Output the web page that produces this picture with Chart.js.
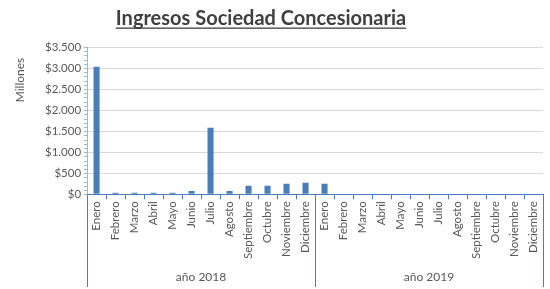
<!DOCTYPE html>
<html>
<head>
<meta charset="utf-8">
<script src="https://cdn.jsdelivr.net/npm/chart.js@4"></script>
<style>
  html, body { margin: 0; padding: 0; background: #fff; }
  #wrap { width: 550px; height: 289px; }
</style>
</head>
<body>
<div id="wrap"><canvas id="chart" width="550" height="289"></canvas></div>
<script>
const months = ['Enero', 'Febrero', 'Marzo', 'Abril', 'Mayo', 'Junio', 'Julio', 'Agosto', 'Septiembre', 'Octubre', 'Noviembre', 'Diciembre'];
const years = ['año 2018', 'año 2019'];
const ingresos2018 = [3030, 35, 35, 35, 35, 80, 1580, 80, 205, 205, 250, 275];
const ingresos2019 = [250, 0, 0, 0, 0, 0, 0, 0, 0, 0, 0, 0];
const yTicks = [0, 500, 1000, 1500, 2000, 2500, 3000, 3500];

const labels = months.concat(months);
const values = ingresos2018.concat(ingresos2019);
const blue = '#4a7ebb';
const textGray = '#595959';

// title, y label, minor ticks, year groups
const extras = {
    id: 'extras',
    afterDraw(c) {
        const ctx = c.ctx;
        const x = c.scales.x;
        const y = c.scales.y;
        const area = c.chartArea;
        ctx.save();

        // title
        ctx.font = 'bold 20px Lato';
        ctx.fillStyle = '#404040';
        ctx.textAlign = 'center';
        ctx.textBaseline = 'alphabetic';
        const tx = 261;
        ctx.fillText('Ingresos Sociedad Concesionaria', tx, 25);
        const tw = ctx.measureText('Ingresos Sociedad Concesionaria').width;
        ctx.fillRect(tx - tw / 2, 27.5, tw, 1.3);

        // y axis label
        ctx.font = '12px Lato';
        ctx.fillStyle = textGray;
        ctx.translate(20, 80);
        ctx.rotate(-Math.PI / 2);
        ctx.textBaseline = 'middle';
        ctx.fillText('Millones', 0, 0);
        ctx.setTransform(1, 0, 0, 1, 0, 0);

        // minor ticks on y axis
        ctx.strokeStyle = '#9db6da';
        ctx.lineWidth = 1;
        ctx.beginPath();
        for (let v = 0; v <= 3500; v += 100) {
            const py = Math.round(y.getPixelForValue(v)) + 0.5;
            ctx.moveTo(area.left - 3, py);
            ctx.lineTo(area.left, py);
        }
        ctx.stroke();

        // year separators and labels
        const half = (x.getPixelForTick(1) - x.getPixelForTick(0)) / 2;
        ctx.strokeStyle = blue;
        ctx.beginPath();
        [0, 12, 24].forEach(i => {
            const px = Math.round(i < 24 ? x.getPixelForTick(i) - half : x.getPixelForTick(23) + half) + 0.5;
            ctx.moveTo(px, area.bottom);
            ctx.lineTo(px, c.height - 2);
        });
        ctx.stroke();

        ctx.font = '12px Lato';
        ctx.fillStyle = textGray;
        ctx.textAlign = 'center';
        ctx.textBaseline = 'middle';
        years.forEach((yr, k) => {
            const cx = (x.getPixelForTick(k * 12) + x.getPixelForTick(k * 12 + 11)) / 2;
            ctx.fillText(yr, cx, c.height - 12);
        });
        ctx.restore();
    }
};

new Chart(document.getElementById('chart'), {
    type: 'bar',
    data: {
        labels: labels,
        datasets: [{
            label: 'Ingresos',
            data: values,
            backgroundColor: blue,
            barPercentage: 0.32,
            categoryPercentage: 1
        }]
    },
    options: {
        responsive: false,
        animation: false,
        layout: { padding: { left: 39, top: 47, right: 7, bottom: 28 } },
        plugins: { legend: { display: false }, tooltip: { enabled: false } },
        scales: {
            x: {
                grid: { offset: true, drawOnChartArea: false, tickLength: 5, color: blue },
                border: { color: blue },
                ticks: {
                    autoSkip: false, maxRotation: 90, minRotation: 90,
                    font: { family: 'Lato', size: 11.5 }, color: textGray, padding: 2
                }
            },
            y: {
                min: 0, max: 3500,
                afterBuildTicks: s => { s.ticks = yTicks.map(v => ({ value: v })); },
                grid: { color: '#d9d9d9', drawTicks: false },
                border: { color: '#9db6da' },
                ticks: {
                    font: { family: 'Lato', size: 11.5 }, color: textGray, padding: 6,
                    callback: v => '$' + v.toLocaleString('de-DE')
                }
            }
        }
    },
    plugins: [extras]
});
</script>
</body>
</html>
